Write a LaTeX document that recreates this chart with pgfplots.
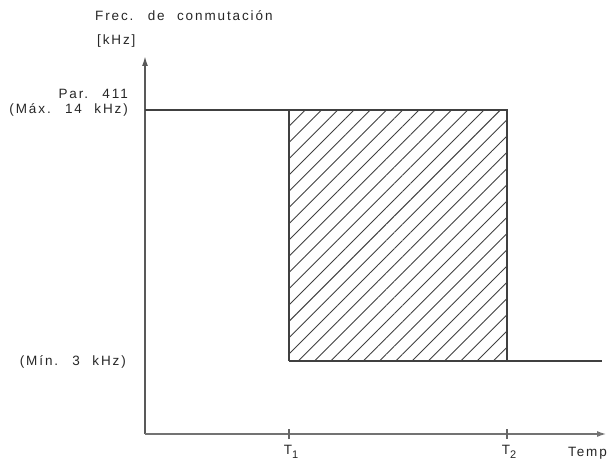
\documentclass[border=0pt]{standalone}
\usepackage{fontspec}
\setmainfont{Liberation Sans}[LetterSpace=14,WordSpace=2.2]
\usepackage{pgfplots}
\pgfplotsset{compat=1.18}
\usetikzlibrary{patterns.meta,arrows.meta}
\begin{document}
\begin{tikzpicture}[x=1pt,y=1pt]
\useasboundingbox (0,0) rectangle (608,464);
\begin{axis}[
  hide axis, scale only axis, width=608pt, height=464pt,
  xmin=0, xmax=608, ymin=0, ymax=464,
  at={(0,0)}, anchor=origin, clip=false,
  font=\fontsize{13.5}{15}\selectfont,
]
% axes
\addplot[black!65, line width=1.6pt, -{Latex[length=10pt,width=6pt]}] coordinates {(145,30) (145,408)};
\addplot[black!55, line width=2.2pt, -{Latex[length=10pt,width=6pt]}] coordinates {(145,30) (607,30)};
% ticks
\addplot[black!60, line width=1.3pt] coordinates {(289,25) (289,35)};
\addplot[black!60, line width=1.3pt] coordinates {(507,25) (507,35)};
% hatched region
\addplot[draw=black!75, line width=1.1pt, pattern={Lines[angle=45,distance=11.5pt,line width=0.9pt]}, pattern color=black!75]
  coordinates {(289,103) (507,103) (507,354) (289,354) (289,103)};
% level lines
\addplot[black!75, line width=1.1pt] coordinates {(145,354) (289,354)};
\addplot[black!75, line width=1.1pt] coordinates {(507,103) (602,103)};
% labels
\node[anchor=base west, text=black!85, inner sep=0pt] at (axis cs:95,443) {Frec. de conmutación};
\node[anchor=base west, text=black!85, inner sep=0pt] at (axis cs:97,419) {[kHz]};
\node[anchor=base east, text=black!85, inner sep=0pt] at (axis cs:128,365) {Par. 411};
\node[anchor=base east, text=black!85, inner sep=0pt] at (axis cs:128,350) {(Máx. 14 kHz)};
\node[anchor=base east, text=black!85, inner sep=0pt] at (axis cs:126,99) {(Mín. 3 kHz)};
\node[anchor=base, text=black!85, inner sep=0pt] at (axis cs:291,10) {T\raisebox{-4pt}{\fontsize{11}{12}\selectfont 1}};
\node[anchor=base, text=black!85, inner sep=0pt] at (axis cs:509,10) {T\raisebox{-4pt}{\fontsize{11}{12}\selectfont 2}};
\node[anchor=base east, text=black!85, inner sep=0pt] at (axis cs:607,8) {Temp};
\end{axis}
\end{tikzpicture}
\end{document}
